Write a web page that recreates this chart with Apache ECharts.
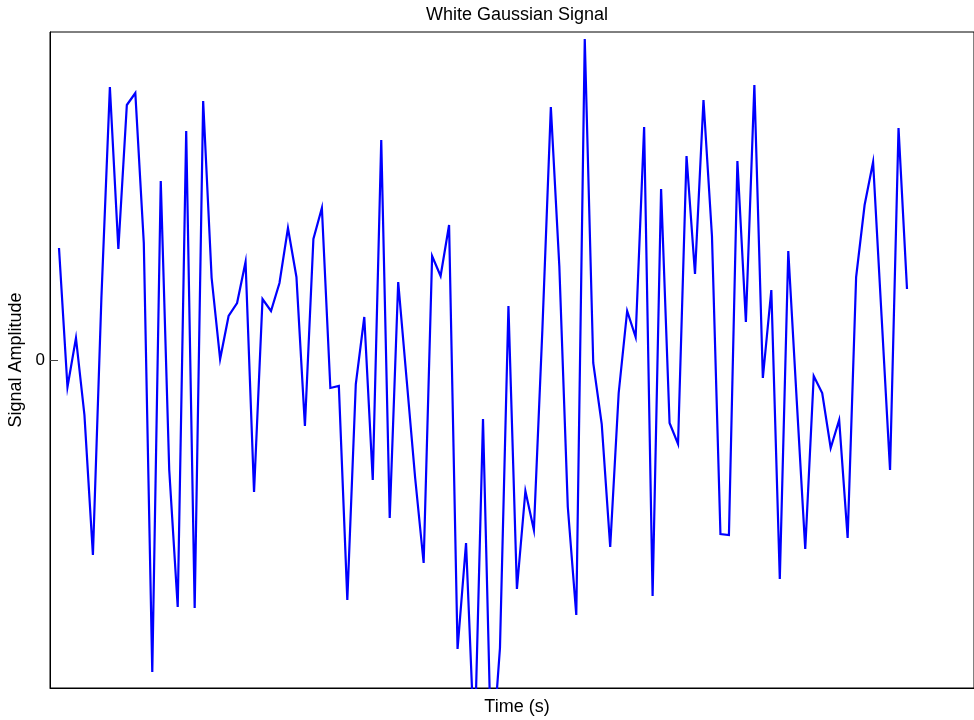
<!DOCTYPE html>
<html>
<head>
<meta charset="utf-8">
<title>White Gaussian Signal</title>
<script src="https://cdn.jsdelivr.net/npm/echarts@6/dist/echarts.min.js"></script>
<style>
  html, body { margin: 0; padding: 0; background: #ffffff; }
  #chart { width: 974px; height: 720px; }
</style>
</head>
<body>
<div id="chart"></div>
<script>
// Noise samples, one per time step
const amplitude = [
  1.12, -0.27, 0.22, -0.55, -1.95, 0.62, 2.73, 1.11, 2.55, 2.67,
  1.17, -3.12, 1.79, -1.10, -2.47, 2.29, -2.48, 2.59, 0.82, 0.01,
  0.44, 0.57, 0.98, -1.32, 0.61, 0.49, 0.77, 1.32, 0.83, -0.66,
  1.21, 1.52, -0.28, -0.26, -2.40, -0.24, 0.43, -1.20, 2.20, -1.58,
  0.78, -0.20, -1.18, -2.03, 1.04, 0.84, 1.35, -2.89, -1.83, -3.90,
  -0.59, -4.05, -2.88, 0.54, -2.29, -1.31, -1.70, 0.30, 2.53, 0.94,
  -1.47, -2.55, 3.21, -0.03, -0.64, -1.87, -0.33, 0.49, 0.23, 2.33,
  -2.36, 1.71, -0.63, -0.84, 2.04, 0.86, 2.60, 1.24, -1.74, -1.75,
  1.99, 0.38, 2.75, -0.18, 0.70, -2.19, 1.09, -0.41, -1.89, -0.16,
  -0.33, -0.88, -0.60, -1.78, 0.83, 1.55, 1.98, 0.44, -1.10, 2.32,
  0.71
];

// Sample index used as the time coordinate
const timeIndex = amplitude.map((_, i) => i);

const yZeroTick = [0];

const chart = echarts.init(document.getElementById('chart'), null, { renderer: 'canvas' });

const fontFamily = '"Liberation Sans", Arial, Helvetica, sans-serif';

chart.setOption({
  backgroundColor: '#ffffff',
  animation: false,
  title: {
    text: 'White Gaussian Signal',
    left: 512,
    top: 1,
    textAlign: 'center',
    textStyle: { fontFamily, fontSize: 18, fontWeight: 'normal', color: '#000000' }
  },
  grid: {
    left: 50,
    right: 0,
    top: 32,
    bottom: 32,
    show: true,
    borderColor: '#000000',
    borderWidth: 1,
    containLabel: false,
    outerBoundsMode: 'none'
  },
  xAxis: {
    type: 'value',
    min: -1.061,
    max: 107.9,
    name: 'Time (s)',
    nameLocation: 'middle',
    nameGap: 10,
    nameTextStyle: { fontFamily, fontSize: 18, color: '#000000', verticalAlign: 'top', padding: [0, 0, 0, 10] },
    axisLine: { show: true, onZero: false, lineStyle: { color: '#000000', width: 1 } },
    axisTick: { show: false },
    axisLabel: { show: false },
    splitLine: { show: false }
  },
  yAxis: {
    type: 'value',
    min: -3.28,
    max: 3.28,
    name: 'Signal Amplitude',
    nameLocation: 'middle',
    nameGap: 21,
    nameTextStyle: { fontFamily, fontSize: 18, color: '#000000' },
    axisLine: { show: true, onZero: false, lineStyle: { color: '#000000', width: 1 } },
    axisTick: {
      show: true,
      inside: true,
      length: 8,
      customValues: yZeroTick,
      lineStyle: { color: '#444444', width: 1 }
    },
    axisLabel: {
      show: true,
      customValues: yZeroTick,
      margin: 5,
      fontFamily,
      fontSize: 17,
      color: '#000000'
    },
    splitLine: { show: false }
  },
  series: [{
    type: 'line',
    data: timeIndex.map((t, i) => [t, amplitude[i]]),
    showSymbol: false,
    symbol: 'none',
    clip: true,
    lineStyle: { color: '#0000ff', width: 2.2, join: 'miter' },
    itemStyle: { color: '#0000ff' }
  }]
});
</script>
</body>
</html>
